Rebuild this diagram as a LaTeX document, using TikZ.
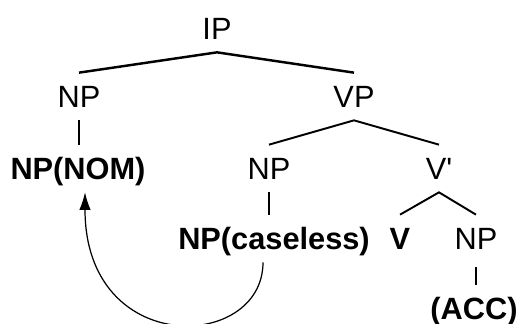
\documentclass[tikz,border=0pt]{standalone}
\usepackage{fontspec}
\setmainfont{Liberation Sans}
\usetikzlibrary{arrows.meta}

\begin{document}
\begin{tikzpicture}[x=0.02cm,y=-0.02cm]
                \tikzset{Cat/.style={inner sep=0pt, anchor=base, text height=0.7cm, text depth=0.24cm, font=\fontsize{17.5}{20}\selectfont}}
                \tikzset{Word/.style={Cat, font=\fontsize{17.5}{20}\selectfont\bfseries}}

                \useasboundingbox (0,0) rectangle (521,324);

                \node[Cat](IP) at (217,40) {IP};
                \node[Cat](NP1) at (79,108) {NP};
                \node[Word](NOM) at (78,180) {NP(NOM)};
                \node[Cat](VP) at (354,108) {VP};
                \node[Cat](NP2) at (269,180) {NP};
                \node[Word](CL) at (274,250) {NP(caseless)};
                \node[Cat](VB) at (439,180) {V\textquotesingle};
                \node[Word](V) at (400,250) {V};
                \node[Cat](NP3) at (476,250) {NP};
                \node[Word](ACC) at (474,320) {(ACC)};

                % branches
                \draw[line width=1.4pt] (NP1.north) -- (IP.south) -- (VP.north);
                \draw[line width=1.1pt] (NP2.north) -- (VP.south) -- (VB.north);
                \draw[line width=1.1pt] (V.north) -- (VB.south) -- (NP3.north);

                % unary links
                \draw[line width=0.8pt, shorten <=0.1cm]
                    (NP1.south) -- (NP1.south |- NOM.north)
                    (NP2.south) -- (NP2.south |- CL.north)
                    (NP3.south) -- (NP3.south |- ACC.north)
                ;

                \draw[-{Latex[length=10pt,width=6.5pt]}, line width=0.7pt]
                    ([xshift=-0.22cm]CL.south) .. controls +(0,89) and +(0,166) .. ([xshift=0.14cm]NOM.south)
                ;
            \end{tikzpicture}
\end{document}
